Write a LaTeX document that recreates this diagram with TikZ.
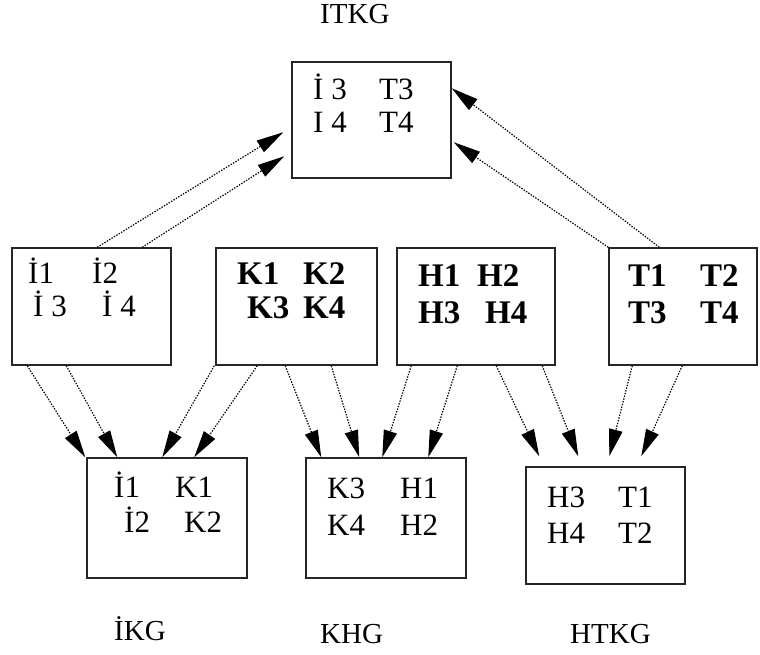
\documentclass[tikz,border=0pt]{standalone}
\usepackage{fontspec}
\setmainfont{Liberation Serif}
\usetikzlibrary{arrows.meta,calc}
\begin{document}
\begin{tikzpicture}[x=1pt,y=-1pt,
  box/.style={draw=black!85,line width=1.5pt,rectangle,inner sep=0pt},
  lbl/.style={anchor=base west,inner sep=0pt,font=\fontsize{29}{30}\selectfont},
  txt/.style={anchor=base west,inner sep=0pt,font=\fontsize{31}{32}\selectfont},
  btxt/.style={anchor=base west,inner sep=0pt,font=\fontsize{33}{34}\selectfont\bfseries},
  conn/.style={line width=1.2pt,dash pattern=on 1.4pt off 1.4pt,-{Triangle[length=27pt,width=13.5pt]}}]
\useasboundingbox (0,0) rectangle (760,655);

% boxes
\node[box,minimum width=159pt,minimum height=116pt] (itkg) at (371.5,120) {};
\node[box,minimum width=159pt,minimum height=117pt] (b1) at (91.5,306.5) {};
\node[box,minimum width=161pt,minimum height=117pt] (b2) at (296.5,306.5) {};
\node[box,minimum width=158pt,minimum height=117pt] (b3) at (476,306.5) {};
\node[box,minimum width=148pt,minimum height=117pt] (b4) at (683,306.5) {};
\node[box,minimum width=160pt,minimum height=120pt] (ikg) at (167,518) {};
\node[box,minimum width=160pt,minimum height=120pt] (khg) at (386,518) {};
\node[box,minimum width=159pt,minimum height=117pt] (htkg) at (605.5,525.5) {};

% texts
\node[lbl] (l0) at (320,24) {ITKG};
\node[lbl] (l1) at (114,640) {İKG};
\node[lbl] (l2) at (320,643) {KHG};
\node[lbl] (l3) at (570,643) {HTKG};

\node[txt] (ta) at (313,100) {İ 3};
\node[txt] (tb) at (379,100) {T3};
\node[txt] (tc) at (313,133) {I 4};
\node[txt] (td) at (379,133) {T4};

\node[txt] (ia) at (28,283) {İ1};
\node[txt] (ib) at (92,283) {İ2};
\node[txt] (ic) at (33,316) {İ 3};
\node[txt] (id) at (102,316) {İ 4};

\node[btxt] (ka) at (237,284) {K1};
\node[btxt] (kb) at (303,284) {K2};
\node[btxt] (kc) at (247,318) {K3};
\node[btxt] (kd) at (303,318) {K4};

\node[btxt] (ha) at (418,286) {H1};
\node[btxt] (hb) at (477,286) {H2};
\node[btxt] (hc) at (418,323) {H3};
\node[btxt] (hd) at (485,323) {H4};

\node[btxt] (sa) at (628,286) {T1};
\node[btxt] (sb) at (700,286) {T2};
\node[btxt] (sc) at (628,323) {T3};
\node[btxt] (sd) at (700,323) {T4};

\node[txt] (pa) at (114,497) {İ1};
\node[txt] (pb) at (175,497) {K1};
\node[txt] (pc) at (124,532) {İ2};
\node[txt] (pd) at (184,532) {K2};

\node[txt] (qa) at (327,498) {K3};
\node[txt] (qb) at (400,498) {H1};
\node[txt] (qc) at (327,535) {K4};
\node[txt] (qd) at (400,535) {H2};

\node[txt] (ra) at (547,507) {H3};
\node[txt] (rb) at (618,507) {T1};
\node[txt] (rc) at (547,543) {H4};
\node[txt] (rd) at (618,543) {T2};

% upward connectors
\draw[conn] ($(b1.north west)+(86,0)$) -- ($(itkg.north west)+(-8,71)$);
\draw[conn] ($(b1.north west)+(131,0)$) -- ($(itkg.north west)+(-7,95)$);
\draw[conn] ($(b4.north west)+(51,0)$) -- ($(itkg.north east)+(0,27)$);
\draw[conn] (b4.north west) -- ($(itkg.north east)+(2,81)$);

% downward connectors
\draw[conn] ($(b1.south west)+(16,0)$) -- ($(ikg.north west)+(-1,0)$);
\draw[conn] ($(b1.south west)+(55,0)$) -- ($(ikg.north west)+(31,0)$);
\draw[conn] ($(b2.south west)+(-1,0)$) -- ($(ikg.north west)+(76,0)$);
\draw[conn] ($(b2.south west)+(42,0)$) -- ($(ikg.north west)+(108,0)$);

\draw[conn] ($(b2.south west)+(70,0)$) -- ($(khg.north west)+(16,0)$);
\draw[conn] ($(b2.south west)+(116,0)$) -- ($(khg.north west)+(54,0)$);
\draw[conn] ($(b3.south west)+(15,0)$) -- ($(khg.north west)+(77,0)$);
\draw[conn] ($(b3.south west)+(61,0)$) -- ($(khg.north west)+(123,0)$);

\draw[conn] ($(b3.south west)+(100,0)$) -- ($(htkg.north west)+(14,-10)$);
\draw[conn] ($(b3.south west)+(146,0)$) -- ($(htkg.north west)+(53,-10)$);
\draw[conn] ($(b4.south west)+(24,0)$) -- ($(htkg.north west)+(84,-10)$);
\draw[conn] ($(b4.south west)+(74,0)$) -- ($(htkg.north west)+(116,-10)$);
\end{tikzpicture}
\end{document}
